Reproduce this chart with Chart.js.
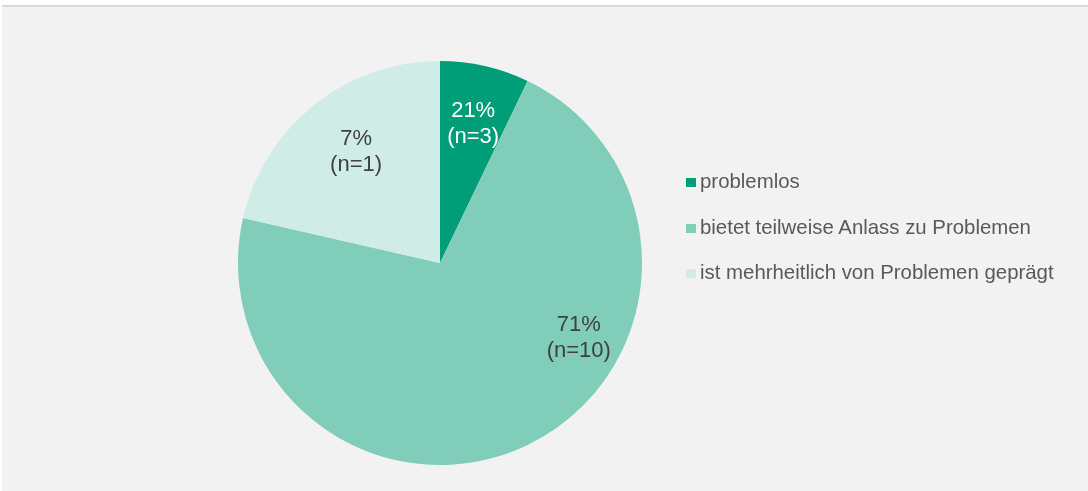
<!DOCTYPE html>
<html>
<head>
<meta charset="utf-8">
<script src="https://cdn.jsdelivr.net/npm/chart.js@4/dist/chart.umd.min.js"></script>
<style>
  html, body { margin: 0; padding: 0; background: #fff; }
  body { width: 1088px; height: 491px; overflow: hidden; position: relative; font-family: "Liberation Sans", Arial, sans-serif; }
  #box { position: absolute; left: 2px; top: 5px; width: 1086px; height: 486px; border-top: 2px solid #d9d9d9; background: #f2f2f2; }
  #wrap { position: absolute; left: 0; top: 0; width: 1086px; height: 484px; }
  #legend { position: absolute; left: 684px; top: 154px; color: #595959; font-size: 20.4px; }
  #legend div { height: 45.7px; line-height: 40px; white-space: nowrap; }
  #legend span { display: inline-block; width: 10px; height: 9px; margin-right: 4px; vertical-align: 1px; }
</style>
</head>
<body>
<div id="box">
  <div id="wrap"><canvas id="chartId"></canvas></div>
  <div id="legend"></div>
</div>
<script>
// values
var categories = ['problemlos', 'bietet teilweise Anlass zu Problemen', 'ist mehrheitlich von Problemen geprägt']
var counts = [1, 10, 3]
// label text exactly as printed on the slices
var sliceLabels = [['21%', '(n=3)'], ['71%', '(n=10)'], ['7%', '(n=1)']]
var colors = ['#009e78', '#80cdba', '#d0ece6']
var labelColors = ['#ffffff', '#404040', '#404040']

// where the label sits inside each slice: [fraction of angle, fraction of radius]
var labelPlace = [[0.52, 0.71], [0.36, 0.78], [0.52, 0.69]]

const sliceText = {
    id: 'sliceText',
    afterDatasetsDraw(chart) {
        const ctx = chart.ctx
        const meta = chart.getDatasetMeta(0)
        ctx.save()
        ctx.font = '22px "Liberation Sans", Arial, sans-serif'
        ctx.textAlign = 'center'
        ctx.textBaseline = 'middle'
        meta.data.forEach((arc, i) => {
            const p = arc.getProps(['x', 'y', 'startAngle', 'endAngle', 'outerRadius'], true)
            const a = p.startAngle + (p.endAngle - p.startAngle) * labelPlace[i][0]
            const r = p.outerRadius * labelPlace[i][1]
            const cx = p.x + Math.cos(a) * r
            const cy = p.y + Math.sin(a) * r
            ctx.fillStyle = labelColors[i]
            ctx.fillText(sliceLabels[i][0], cx, cy - 13)
            ctx.fillText(sliceLabels[i][1], cx, cy + 13)
        })
        ctx.restore()
    }
}

var chrt = document.getElementById('chartId').getContext('2d')
var pieChart = new Chart(chrt, {
    type: 'pie',
    data: {
        labels: categories,
        datasets: [{
            data: counts,
            backgroundColor: colors,
            borderWidth: 0
        }]
    },
    options: {
        responsive: true,
        maintainAspectRatio: false,
        animation: false,
        layout: { padding: { left: 236, right: 446, top: 54, bottom: 26 } },
        plugins: {
            legend: { display: false },
            tooltip: { enabled: false }
        }
    },
    plugins: [sliceText]
})

// legend next to the pie
var lg = document.getElementById('legend')
categories.forEach((c, i) => {
    var row = document.createElement('div')
    row.innerHTML = '<span style="background:' + colors[i] + '"></span>' + c
    lg.appendChild(row)
})
</script>
</body>
</html>
